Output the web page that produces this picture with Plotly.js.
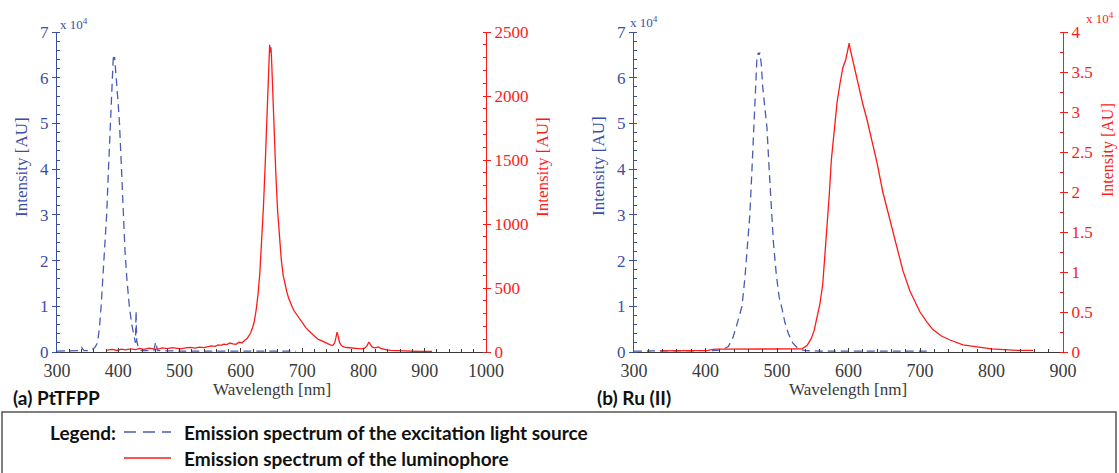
<!DOCTYPE html>
<html>
<head>
<meta charset="utf-8">
<script src="https://cdn.plot.ly/plotly-3.0.1.min.js"></script>
<style>html,body{margin:0;padding:0;background:#fff;}#chart{width:1119px;height:473px;}</style>
</head>
<body>
<div id="chart"></div>
<script>
// ---------- Data ----------
// (a) PtTFPP — excitation light source, intensity in units of 10^4 AU
const wlA_exc = [300,320,336,340,344,355,362,366,369,372,375,378,381,384,387,389,390.5,392,393,394,396,398,400,402,405,408,411,414,418,422,426,428,429,430,433,438,458,461,464,500,600,690];
const intA_exc = [0.02,0.02,0.03,0.1,0.03,0.03,0.1,0.2,0.5,1.0,1.6,2.3,3.0,4.0,5.0,5.8,6.3,6.5,6.4,6.45,6.1,5.8,5.4,5.0,4.0,3.0,2.2,1.6,1.0,0.6,0.3,0.2,0.9,0.25,0.08,0.03,0.03,0.22,0.03,0.02,0.02,0.02];

// (a) PtTFPP — luminophore emission, intensity in AU
const wlA_lum = [382,390,398,405,412,420,428,435,442,450,
  458,465,472,480,488,495,502,510,518,525,
  532,540,546,552,558,563,568,572,577,582,
  587,592,597,602,606,610,613,616,619,622,
  625,628,631,634,637,640,642,644,645,646,
  647,648,649,650,651,653,655,657,660,663,
  666,669,672,675,678,681,684,687,690,693,
  696,699,702,706,710,714,718,722,726,730,
  734,738,742,746,750,753,755,757,759,761,
  764,768,773,778,784,790,796,802,806,809,
  811,814,818,822,825,828,832,838,845,852,
  860,868,876,884,892,900,906,912];
const intA_lum = [14,20,12,22,16,25,18,28,20,30,
  24,22,32,26,34,28,24,32,36,30,
  38,34,42,48,44,55,52,62,58,70,
  64,60,76,72,90,105,125,150,190,240,
  330,450,620,850,1150,1500,1800,2100,2250,2360,
  2400,2340,2380,2300,2150,1900,1650,1400,1100,880,
  720,600,520,470,420,380,350,320,300,280,
  250,230,210,190,170,150,130,115,100,90,
  80,70,62,55,52,70,110,155,120,75,
  50,40,35,32,28,26,25,30,50,78,
  60,40,32,36,40,28,22,16,12,10,
  8,6,6,5,4,4,4,4];

// (b) Ru (II) — excitation light source, intensity in units of 10^4 AU
const wlB_exc = [300,330,360,390,410,420,426,432,438,443,448,451,455,459,462,465,468,470,472,474,475,476,478,480,483,486,489,492,495,499,503,507,511,516,522,528,534,540,560,600,650,710];
const intB_exc = [0.02,0.02,0.02,0.02,0.03,0.04,0.07,0.12,0.3,0.55,0.85,1.0,1.6,2.3,3.0,4.0,5.0,5.8,6.45,6.55,6.5,6.55,6.3,5.8,5.4,4.9,4.0,3.1,2.4,1.7,1.2,0.95,0.65,0.4,0.2,0.1,0.05,0.03,0.02,0.02,0.02,0.02];

// (b) Ru (II) — luminophore emission, intensity in units of 10^4 AU
const wlB_lum = [336,360,390,404,408,415,430,460,490,520,535,542,548,552,556,560,564,567,570,573,576,580,584,588,592,596,598,600,601,602,604,606,613,620,626,632,640,648,656,662,670,676,686,700,710,718,730,742,760,774,800,835,858];
const intB_lum = [0.015,0.015,0.02,0.02,0.03,0.035,0.035,0.035,0.035,0.035,0.04,0.08,0.17,0.27,0.42,0.6,0.85,1.2,1.55,1.95,2.4,2.8,3.12,3.35,3.55,3.65,3.72,3.82,3.86,3.8,3.72,3.62,3.35,3.1,2.9,2.68,2.36,2.0,1.72,1.5,1.2,1.02,0.76,0.5,0.37,0.28,0.2,0.15,0.09,0.07,0.04,0.02,0.02];

// Text
const panelLabels = ['(a) PtTFPP', '(b) Ru (II)'];
const axisTitleY = 'Intensity [AU]';
const axisTitleX = 'Wavelength [nm]';
const legendTitle = 'Legend:';
const seriesNames = ['Emission spectrum of the excitation light source', 'Emission spectrum of the luminophore'];

// ---------- Styling ----------
const W = 1119, H = 473;
const PX = x => x / W;
const PY = y => 1 - y / H;
const BLUE = '#3b4ea6', BLUE_LINE = '#4a5cb3', RED = '#ff1a1a', GREY = '#3a3a3a';
const SERIF = 'Liberation Serif, Times New Roman, serif';
const SANS = 'Lato, Noto Sans, sans-serif';

const excLine = {color: BLUE_LINE, width: 1.3, dash: '8px,5px'};
const lumLine = {color: RED, width: 1.3};

const traces = [
  {x: wlA_exc, y: intA_exc, xaxis: 'x', yaxis: 'y', type: 'scatter', mode: 'lines', line: excLine, name: seriesNames[0]},
  {x: wlA_lum, y: intA_lum, xaxis: 'x', yaxis: 'y2', type: 'scatter', mode: 'lines', line: lumLine, name: seriesNames[1]},
  {x: wlB_exc, y: intB_exc, xaxis: 'x2', yaxis: 'y3', type: 'scatter', mode: 'lines', line: excLine, name: seriesNames[0]},
  {x: wlB_lum, y: intB_lum, xaxis: 'x2', yaxis: 'y4', type: 'scatter', mode: 'lines', line: lumLine, name: seriesNames[1]}
];

function xAxis(domain, range, anchor) {
  return {
    domain: domain, range: range, anchor: anchor,
    showline: true, linecolor: GREY, linewidth: 1,
    ticks: 'inside', ticklen: 4, tickcolor: GREY, tick0: 300, dtick: 100,
    minor: {dtick: 20, ticks: 'inside', ticklen: 3, tickcolor: GREY},
    tickfont: {family: SERIF, size: 18, color: GREY}, ticklabelstandoff: 2,
    showgrid: false, zeroline: false
  };
}
function yAxis(range, dtick, minorDtick, color, side, anchor, overlaying) {
  const a = {
    domain: [PY(352), PY(32)], range: range, anchor: anchor, side: side,
    showline: true, linecolor: color, linewidth: 1.2,
    ticks: 'outside', ticklen: 4, tickcolor: color, tick0: 0, dtick: dtick,
    minor: {dtick: minorDtick, ticks: 'inside', ticklen: 3, tickcolor: color},
    tickfont: {family: SERIF, size: 17, color: color},
    showgrid: false, zeroline: false
  };
  if (overlaying) a.overlaying = overlaying;
  return a;
}

const yTitleFont = c => ({family: SERIF, size: 17, color: c});
const boldFont = {family: SANS, size: 19, color: '#111', weight: 'bold'};

function note(text, x, y, opts) {
  return Object.assign({text: text, xref: 'paper', yref: 'paper', x: PX(x), y: PY(y),
    xanchor: 'center', yanchor: 'middle', showarrow: false}, opts);
}

const layout = {
  width: W, height: H,
  margin: {l: 0, r: 0, t: 0, b: 0},
  paper_bgcolor: '#fff', plot_bgcolor: 'rgba(0,0,0,0)',
  showlegend: false,
  xaxis: xAxis([PX(57), PX(486)], [300, 1000], 'y'),
  yaxis: yAxis([0, 7], 1, 0.2, BLUE, 'left', 'x'),
  yaxis2: yAxis([0, 2500], 500, 100, RED, 'right', 'x', 'y'),
  xaxis2: xAxis([PX(634), PX(1063)], [300, 900], 'y3'),
  yaxis3: yAxis([0, 7], 1, 0.2, BLUE, 'left', 'x2'),
  yaxis4: yAxis([0, 4], 0.5, 0.25, RED, 'right', 'x2', 'y3'),
  annotations: [
    note(axisTitleY, 21, 167, {textangle: -90, font: yTitleFont(BLUE)}),
    note(axisTitleY, 542, 167, {textangle: -90, font: yTitleFont(RED)}),
    note(axisTitleY, 598, 166, {textangle: -90, font: yTitleFont(BLUE)}),
    note(axisTitleY, 1108, 150, {textangle: -90, font: {family: SERIF, size: 16, color: RED}}),
    note(axisTitleX, 272, 389, {font: {family: SERIF, size: 17, color: GREY}}),
    note(axisTitleX, 848, 389, {font: {family: SERIF, size: 17, color: GREY}}),
    note('x 10<sup>4</sup>', 58, 24, {xanchor: 'left', font: {family: SERIF, size: 13, color: BLUE}}),
    note('x 10<sup>4</sup>', 628, 22, {xanchor: 'left', font: {family: SERIF, size: 13, color: BLUE}}),
    note('x 10<sup>4</sup>', 1084, 18, {xanchor: 'left', font: {family: SERIF, size: 13, color: RED}}),
    note(panelLabels[0], 11, 397, {xanchor: 'left', font: boldFont}),
    note(panelLabels[1], 595, 397, {xanchor: 'left', font: boldFont}),
    note(legendTitle, 48, 432, {xanchor: 'left', font: boldFont}),
    note(seriesNames[0], 182, 432, {xanchor: 'left', font: boldFont}),
    note(seriesNames[1], 182, 458, {xanchor: 'left', font: boldFont})
  ],
  shapes: [
    {type: 'rect', xref: 'paper', yref: 'paper', x0: PX(2), x1: PX(1116), y0: PY(412), y1: PY(480), line: {color: '#555', width: 1.5}},
    {type: 'line', xref: 'paper', yref: 'paper', x0: PX(124), x1: PX(171), y0: PY(432), y1: PY(432), line: {color: BLUE_LINE, width: 1.5, dash: '12px,7px'}},
    {type: 'line', xref: 'paper', yref: 'paper', x0: PX(124), x1: PX(171), y0: PY(458), y1: PY(458), line: {color: RED, width: 1.5}}
  ]
};

Plotly.newPlot('chart', traces, layout, {displayModeBar: false, responsive: false});
</script>
</body>
</html>
